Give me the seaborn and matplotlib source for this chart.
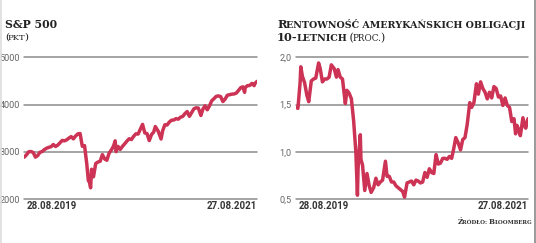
import matplotlib
matplotlib.use("Agg")
import matplotlib.pyplot as plt
import seaborn as sns
import pandas as pd
import numpy as np

# ---------------- data ----------------
sp_dates = ["2019-08-28","2019-09-04","2019-09-11","2019-09-18","2019-09-25","2019-10-02","2019-10-09",
    "2019-10-16","2019-10-23","2019-10-30","2019-11-06","2019-11-13","2019-11-20","2019-11-27","2019-12-04",
    "2019-12-11","2019-12-18","2019-12-25","2020-01-01","2020-01-08","2020-01-15","2020-01-22","2020-01-29",
    "2020-02-05","2020-02-12","2020-02-19","2020-02-26","2020-03-04","2020-03-11","2020-03-16","2020-03-18",
    "2020-03-23","2020-03-26","2020-04-01","2020-04-08","2020-04-15","2020-04-22","2020-04-29","2020-05-06",
    "2020-05-13","2020-05-20","2020-05-27","2020-06-03","2020-06-08","2020-06-11","2020-06-17","2020-06-24",
    "2020-07-01","2020-07-08","2020-07-15","2020-07-22","2020-07-29","2020-08-05","2020-08-12","2020-08-19",
    "2020-08-26","2020-09-02","2020-09-09","2020-09-16","2020-09-23","2020-09-30","2020-10-07","2020-10-12",
    "2020-10-21","2020-10-30","2020-11-04","2020-11-11","2020-11-18","2020-11-25","2020-12-02","2020-12-09",
    "2020-12-16","2020-12-23","2020-12-30","2021-01-06","2021-01-13","2021-01-20","2021-01-27","2021-02-03",
    "2021-02-10","2021-02-17","2021-02-24","2021-03-04","2021-03-10","2021-03-17","2021-03-24","2021-03-31",
    "2021-04-07","2021-04-14","2021-04-21","2021-04-28","2021-05-05","2021-05-12","2021-05-19","2021-05-26",
    "2021-06-02","2021-06-09","2021-06-16","2021-06-23","2021-06-30","2021-07-07","2021-07-14","2021-07-19",
    "2021-07-21","2021-07-28","2021-08-04","2021-08-11","2021-08-18","2021-08-20","2021-08-27"]
sp_values = [2887,2937,3000,3006,2984,2887,2919,2990,3004,3046,3076,3094,3108,3153,3112,3141,3191,3240,
    3231,3253,3289,3321,3273,3334,3379,3386,3116,3130,2741,2386,2398,2237,2630,2470,2750,2783,2799,2939,
    2848,2820,2971,3036,3122,3232,3002,3113,3050,3115,3169,3226,3276,3258,3327,3380,3375,3478,3580,3399,
    3385,3237,3363,3419,3534,3436,3270,3443,3572,3567,3629,3669,3672,3701,3690,3732,3748,3809,3851,3750,
    3830,3909,3931,3925,3768,3898,3974,3889,3973,4080,4124,4173,4183,4167,4063,4116,4196,4208,4220,4224,
    4242,4298,4358,4374,4258,4359,4400,4403,4447,4400,4442,4490]

yld_dates = ["2019-08-28","2019-09-04","2019-09-11","2019-09-13","2019-09-18","2019-09-25","2019-10-02",
    "2019-10-08","2019-10-16","2019-10-23","2019-10-30","2019-11-08","2019-11-13","2019-11-20","2019-11-27",
    "2019-12-04","2019-12-11","2019-12-18","2019-12-27","2020-01-03","2020-01-08","2020-01-15","2020-01-22",
    "2020-01-31","2020-02-05","2020-02-12","2020-02-19","2020-02-26","2020-03-04","2020-03-09","2020-03-11",
    "2020-03-18","2020-03-20","2020-03-25","2020-04-01","2020-04-08","2020-04-15","2020-04-21","2020-04-29",
    "2020-05-06","2020-05-13","2020-05-20","2020-05-27","2020-06-05","2020-06-10","2020-06-17","2020-06-24",
    "2020-07-01","2020-07-08","2020-07-15","2020-07-22","2020-07-29","2020-08-04","2020-08-12","2020-08-19",
    "2020-08-26","2020-09-02","2020-09-09","2020-09-16","2020-09-23","2020-09-30","2020-10-07","2020-10-14",
    "2020-10-21","2020-10-28","2020-11-04","2020-11-11","2020-11-18","2020-11-25","2020-12-02","2020-12-09",
    "2020-12-16","2020-12-23","2020-12-30","2021-01-06","2021-01-12","2021-01-20","2021-01-27","2021-02-03",
    "2021-02-10","2021-02-17","2021-02-25","2021-03-03","2021-03-10","2021-03-18","2021-03-24","2021-03-31",
    "2021-04-07","2021-04-14","2021-04-21","2021-04-28","2021-05-05","2021-05-12","2021-05-19","2021-05-26",
    "2021-06-02","2021-06-09","2021-06-16","2021-06-23","2021-06-30","2021-07-07","2021-07-14","2021-07-19",
    "2021-07-23","2021-07-28","2021-08-03","2021-08-11","2021-08-18","2021-08-20","2021-08-27"]
yld_values = [1.47,1.46,1.74,1.90,1.80,1.73,1.60,1.53,1.75,1.77,1.78,1.94,1.88,1.74,1.77,1.77,1.79,1.92,
    1.88,1.79,1.87,1.79,1.77,1.51,1.65,1.62,1.56,1.33,1.00,0.54,0.82,1.18,0.92,0.86,0.59,0.77,0.64,0.57,
    0.62,0.72,0.65,0.68,0.70,0.90,0.74,0.74,0.68,0.68,0.64,0.62,0.60,0.58,0.52,0.67,0.68,0.69,0.65,0.70,
    0.69,0.67,0.68,0.78,0.73,0.82,0.78,0.77,0.97,0.87,0.88,0.93,0.93,0.92,0.95,0.93,1.04,1.15,1.09,1.02,
    1.13,1.15,1.29,1.52,1.47,1.52,1.72,1.61,1.74,1.67,1.63,1.56,1.63,1.57,1.69,1.67,1.58,1.59,1.49,1.57,
    1.49,1.47,1.32,1.35,1.19,1.28,1.24,1.17,1.36,1.26,1.25,1.35]

sp_ticks = [2000, 3000, 4000, 5000]
sp_ticklabels = ["2000", "3000", "4000", "5000"]
yld_ticks = [0.5, 1.0, 1.5, 2.0]
yld_ticklabels = ["0,5", "1,0", "1,5", "2,0"]
start_label, end_label = "28.08.2019", "27.08.2021"

# ---------------- style ----------------
W, H = 536, 243
sns.set_style("white")
plt.rcParams["font.family"] = ["DejaVu Sans"]
fig = plt.figure(figsize=(W / 100, H / 100), dpi=100)
fig.patch.set_facecolor("white")

LINE = "#cc3355"
GRID = "#8c8c8c"
TICK = "#666666"

def px(x, y):
    return x / W, 1 - y / H

def make_ax(x0, x1, dates, values, ticks, ticklabels):
    l, b = px(x0, 199)
    r, t = px(x1, 57.3)
    ax = fig.add_axes([l, b, r - l, t - b])
    df = pd.DataFrame({"date": pd.to_datetime(dates), "value": values})
    sns.lineplot(data=df, x="date", y="value", ax=ax, color=LINE, linewidth=2.5)
    ax.set_xlim(pd.Timestamp("2019-08-28"), pd.Timestamp("2021-08-27"))
    ax.set_ylim(ticks[0], ticks[-1])
    ax.set_yticks(ticks)
    ax.set_yticklabels(ticklabels, fontfamily="Roboto", fontsize=6.6, color=TICK)
    ax.tick_params(axis="y", length=0, pad=3)
    ax.set_xticks([])
    ax.set_xlabel("")
    ax.set_ylabel("")
    for s in ax.spines.values():
        s.set_visible(False)
    ax.grid(False)
    for tv in ticks:
        ax.axhline(tv, color=GRID, lw=1.1, zorder=0, clip_on=False)
    ax.patch.set_alpha(0)
    return ax

ax1 = make_ax(24.3, 257, sp_dates, sp_values, sp_ticks, sp_ticklabels)
ax2 = make_ax(295.7, 528, yld_dates, yld_values, yld_ticks, yld_ticklabels)

# date labels
for ax, xl, xr in [(ax1, 27, 257), (ax2, 299, 528)]:
    fig.text(*px(xl, 206), start_label, ha="left", va="center", fontfamily="Roboto",
             fontweight="bold", fontsize=7, color="#333333")
    fig.text(*px(xr, 206), end_label, ha="right", va="center", fontfamily="Roboto",
             fontweight="bold", fontsize=7, color="#333333")

SERIF = "DejaVu Serif"
renderer = fig.canvas.get_renderer()

def chain(x, y, pieces, align="left", color="#222222", kern=-0.8):
    """Place text pieces (text, size, weight) side by side on a common baseline (pixels)."""
    arts = []
    widths = []
    for txt, size, weight in pieces:
        t = fig.text(0, 0, txt, fontsize=size, fontweight=weight, fontfamily=SERIF,
                     color=color, ha="left", va="baseline")
        bb = t.get_window_extent(renderer=renderer)
        arts.append(t)
        widths.append(bb.width + kern)
    total = sum(widths)
    cx = x if align == "left" else x - total
    for t, w in zip(arts, widths):
        t.set_position(px(cx, y))
        cx += w
    return arts

# left title
chain(5, 28, [("S&P 500", 7.8, "bold")])
chain(5, 40, [("(", 7.4, "normal"), ("PKT", 6.0, "normal"), (")", 7.4, "normal")], kern=-1.2)

# right title (small caps)
chain(277, 28, [("R", 8.2, "bold"), ("ENTOWNOŚĆ AMERYKAŃSKICH OBLIGACJI", 6.8, "bold")])
chain(277, 41, [("10-", 8.2, "bold"), ("LETNICH", 6.8, "bold"), (" (", 7.8, "normal"),
                ("PROC.", 6.4, "normal"), (")", 7.8, "normal")], kern=-1.2)

# source
chain(532, 224, [("Ź", 5.0, "bold"), ("RÓDŁO: ", 4.0, "bold"), ("B", 5.0, "bold"),
                 ("LOOMBERG", 4.0, "bold")], align="right", color="#333333", kern=-0.3)

# borders
fig.add_artist(plt.Line2D([534.8 / W, 534.8 / W], [0, 1], color="#9a9a9a", lw=1.4,
                          transform=fig.transFigure))
fig.add_artist(plt.Line2D([0.8 / W, 0.8 / W], [0, 1], color="#dddddd", lw=1.2,
                          transform=fig.transFigure))

fig.savefig("out.png", dpi=100, facecolor="white")
